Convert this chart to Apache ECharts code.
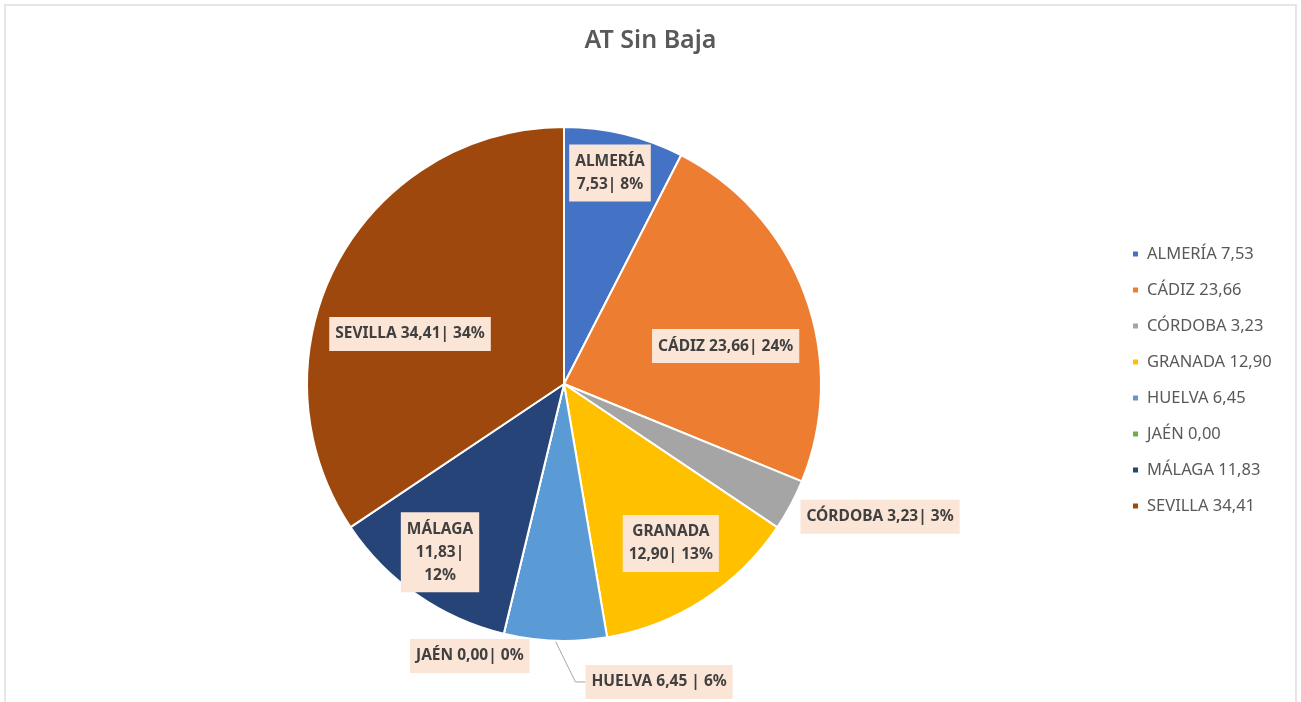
<!DOCTYPE html>
<html>
<head>
<meta charset="utf-8">
<title>AT Sin Baja</title>
<script src="https://cdn.jsdelivr.net/npm/echarts@6/dist/echarts.min.js"></script>
<style>
    html, body { margin: 0; padding: 0; background: #fff; }
    #frame { position: absolute; left: 4px; top: 4px; width: 1293px; height: 720px; border: 2px solid #e6e6e6; box-sizing: border-box; }
    #myChart { position: absolute; left: 0; top: 0; width: 1301px; height: 702px; }
</style>
</head>
<body>
<div id="frame"></div>
<div id="myChart"></div>
<script>
// datos de la gráfica
var provincias = ['ALMERÍA', 'CÁDIZ', 'CÓRDOBA', 'GRANADA', 'HUELVA', 'JAÉN', 'MÁLAGA', 'SEVILLA'];
var valores = [7.53, 23.66, 3.23, 12.90, 6.45, 0.00, 11.83, 34.41];
var colores = ['#4472C4', '#ED7D31', '#A5A5A5', '#FFC000', '#5B9BD5', '#70AD47', '#264478', '#9E480E'];

// cómo se parte cada etiqueta ({n} nombre, {v} valor, {p} porcentaje)
var plantillas = [
    '{n}\n{v}| {p}%',
    '{n} {v}| {p}%',
    '{n} {v}| {p}%',
    '{n}\n{v}| {p}%',
    '{n} {v} | {p}%',
    '{n} {v}| {p}%',
    '{n}\n{v}|\n{p}%',
    '{n} {v}| {p}%'
];
// sitio de cada etiqueta: ángulo (grados, desde arriba, horario) y fracción del radio
var sitios = [
    [12.3, 0.84], [76.8, 0.646], [112.8, 1.334], [146.2, 0.747],
    [162.3, 1.217], [199.1, 1.12], [216.4, 0.813], [288, 0.63]
];

var centro = [564, 384];
var radio = 257;

function coma(v) {
    return v.toFixed(2).replace('.', ',');
}

var total = valores.reduce(function (a, b) { return a + b; }, 0);

var showData = [];
for (let i = 0; i < provincias.length; i++) {
    var fuera = sitios[i][1] > 1;
    showData.push({
        name: provincias[i],
        value: valores[i],
        itemStyle: { color: colores[i] },
        label: { position: fuera ? 'outside' : 'inside' },
        labelLine: { show: provincias[i] === 'HUELVA' }
    });
}

var myChart = echarts.init(document.getElementById('myChart'));

let option = {
    animation: false,
    title: {
        text: 'AT Sin Baja',
        left: 'center',
        top: 23,
        textStyle: {
            fontFamily: 'Noto Sans',
            fontSize: 25,
            fontWeight: 600,
            color: '#595959'
        }
    },
    legend: {
        orient: 'vertical',
        left: 1131,
        top: 244,
        padding: 0,
        icon: 'rect',
        itemWidth: 7,
        itemHeight: 7,
        itemGap: 16,
        data: provincias,
        formatter: function (name) {
            return name + ' ' + coma(valores[provincias.indexOf(name)]);
        },
        textStyle: {
            fontFamily: 'Noto Sans',
            fontSize: 16.5,
            lineHeight: 20,
            color: '#595959',
            padding: [0, 0, 0, 3]
        }
    },
    series: [
        {
            name: 'AT Sin Baja',
            type: 'pie',
            center: centro,
            radius: radio,
            startAngle: 90,
            clockwise: true,
            avoidLabelOverlap: false,
            stillShowZeroSum: true,
            data: showData,
            itemStyle: {
                borderColor: '#ffffff',
                borderWidth: 2
            },
            label: {
                show: true,
                formatter: function (p) {
                    var i = p.dataIndex;
                    return plantillas[i]
                        .replace('{n}', p.name)
                        .replace('{v}', coma(p.value))
                        .replace('{p}', Math.round(p.value / total * 100));
                },
                fontFamily: 'Noto Sans',
                fontSize: 15.5,
                fontWeight: 'bold',
                lineHeight: 23,
                color: '#404040',
                backgroundColor: '#FBE5D6',
                padding: [6, 6, 5, 6],
                align: 'center'
            },
            labelLine: {
                length: 10,
                length2: 10,
                lineStyle: { color: '#A6A6A6', width: 1 }
            },
            labelLayout: function (params) {
                var s = sitios[params.dataIndex];
                var a = s[0] * Math.PI / 180;
                return {
                    x: centro[0] + Math.sin(a) * radio * s[1],
                    y: centro[1] - Math.cos(a) * radio * s[1],
                    align: 'center',
                    verticalAlign: 'middle'
                };
            }
        }
    ]
};

myChart.setOption(option);
</script>
</body>
</html>
